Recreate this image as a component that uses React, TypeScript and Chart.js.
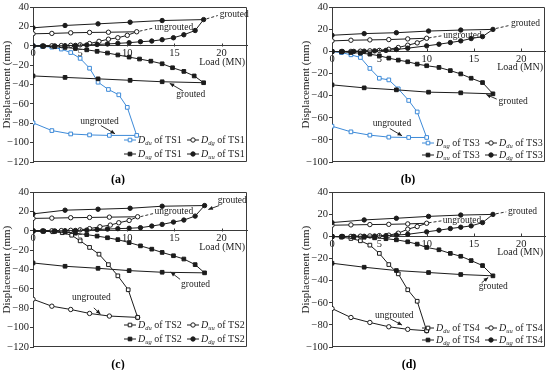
import React, { useEffect, useRef } from 'react';
import { Chart, registerables } from 'chart.js';
Chart.register(...registerables);

type Pt = [number, number];

const FONT = '"Liberation Serif", "Times New Roman", serif';
const INK = '#1c1c1c';
const FRAME = '#3a3a3a';
const BLUE = '#3d8ad8';

// ---- tick labels ----
const X_TICKS = [0, 5, 10, 15, 20];
const Y_TICKS_AC = [40, 20, 0, -20, -40, -60, -80, -100, -120];
const Y_TICKS_BD = [40, 20, 0, -20, -40, -60, -80, -100];

// ---- (a) TS1 : [load MN, displacement mm] ----
const ts1_du: Pt[] = [[0,0],[1,-0.5],[2,-1.2],[3,-3.2],[4,-6.8],[5,-12.8],[6,-23],[6.9,-37.5],[8,-45],[9.1,-50.5],[10,-63.5],[11,-92.5],[8.1,-92.5],[6,-92],[4,-91],[2,-87.5],[0,-79.5]];
const ts1_ug: Pt[] = [[0,0],[1.1,-0.3],[2.3,-0.8],[3.4,-1.5],[4.5,-2.6],[5.7,-4],[6.8,-5.5],[7.9,-7.3],[9,-9.3],[10.2,-11.5],[11.3,-13.5],[12.5,-15.7],[13.7,-18.4],[14.8,-22.5],[16,-26.3],[17.1,-31],[18.1,-38],[13.7,-37],[10.3,-35.5],[6.9,-34],[3.4,-32.5],[0,-31]];
const ts1_dg: Pt[] = [[0,0],[1,0],[2,0.2],[3,0.4],[4,0.7],[5,1.2],[6,2.5],[7,4.8],[8,7],[9,8.5],[10,11],[11,14.7],[8,14.2],[6,14],[4,13.6],[2,13],[0,12.6]];
const ts1_uu: Pt[] = [[0,0],[1.1,0],[2.3,0.1],[3.4,0.3],[4.5,0.6],[5.7,1],[6.8,1.5],[7.9,2.1],[9,2.7],[10.2,3.4],[11.4,4.4],[12.6,5.1],[13.7,6.5],[14.9,8.5],[16,11.6],[17.2,16],[18.1,27.3],[13.7,26.3],[10.3,24.6],[6.9,22.9],[3.4,21.2],[0,18.8]];

// ---- (b) TS3 ----
const ts3_ug: Pt[] = [[0,0],[1,-1],[2,-3],[3,-5.4],[4,-15.3],[5,-24.2],[6,-25.7],[7,-33.8],[8.1,-44.3],[9,-54.7],[10,-77.8],[8.1,-77.8],[6,-77.5],[4,-75.7],[2,-72.7],[0,-67.6]];
const ts3_uu: Pt[] = [[0,0],[1,-0.3],[2,-0.9],[3,-1.5],[4,-2.4],[5,-3.9],[6,-6],[7,-7.8],[8,-9.3],[9,-11.4],[10,-12.9],[11.3,-14.4],[12.5,-17.3],[13.6,-20.3],[14.7,-24.2],[15.9,-28.1],[17,-38.3],[13.6,-37.4],[10.2,-36.8],[6.8,-34.7],[3.4,-32.9],[0,-30.2]];
const ts3_du: Pt[] = [[0,0],[1,0],[2,0.1],[3,0.3],[4,0.6],[5,1],[6,2],[7,3.6],[8,5.7],[9,7.8],[10,12],[8,11.4],[6,10.8],[4,10.5],[2,10.2],[0,9.6]];
const ts3_dg: Pt[] = [[0,0],[1.1,0],[2.3,0.1],[3.4,0.3],[4.5,0.6],[5.7,1],[6.8,1.8],[8,3],[10,5.1],[11.3,6.6],[12.5,8.1],[13.6,9.6],[14.7,11.7],[15.9,13.5],[17,20],[13.6,19.4],[10.2,18.5],[6.8,17],[3.4,16.2],[0,14.7]];

// ---- (c) TS2 ----
const ts2_du: Pt[] = [[0,0],[1.1,-0.3],[2.1,-0.8],[3.1,-1.8],[4.1,-4.4],[5,-10.2],[6,-17],[7,-24],[8,-34.8],[9,-46.4],[10.1,-60.8],[11.1,-89.4]];
const ts2_uu: Pt[] = [[11.1,-89.4],[8.1,-88],[6,-85.3],[4,-81.2],[2,-77.8],[0,-70.6]];
const ts2_ug: Pt[] = [[0,0],[1.1,-0.2],[2.3,-0.5],[3.4,-1.2],[4.5,-2.3],[5.7,-3.8],[6.8,-5.3],[7.9,-7],[9,-9],[10.2,-12],[11.4,-15.4],[12.6,-18.8],[13.7,-22.2],[14.9,-25.6],[16,-29],[17.2,-34.8],[18.2,-43.3],[13.7,-42.7],[10.2,-41],[6.9,-38.6],[3.4,-36.5],[0,-33.1]];
const ts2_up: Pt[] = [[0,0],[1,0],[2,0.2],[3,0.4],[4,0.7],[5,1.2],[6,2.4],[7.1,4.4],[8.2,6.1],[9.1,8.5],[10.2,10.9],[11.1,14.7],[8.1,14.3],[6,14],[4,13.7],[2,13.3],[0,13]];
const ts2_dg: Pt[] = [[0,0],[1.1,0],[2.3,0.1],[3.4,0.3],[4.5,0.5],[5.7,0.9],[6.8,1.4],[7.9,2],[9,2.4],[10.2,2.8],[11.4,3.4],[12.6,5.1],[13.7,6.8],[14.9,9.2],[16,11.3],[17.2,15.4],[18.2,26.3],[13.7,25.6],[10.3,23.5],[6.9,22.5],[3.4,21.5],[0,17.7]];

// ---- (d) TS4 ----
const ts4_du: Pt[] = [[0,0],[1,-0.6],[2,-1.8],[3,-3.9],[4,-7.8],[5,-15.3],[6,-25.4],[7,-33.8],[8,-48.2],[9,-58.6],[10,-85.3]];
const ts4_uu: Pt[] = [[10,-85.3],[8,-84],[6,-81.7],[4,-77.8],[2,-73.3],[0,-65.2]];
const ts4_dg: Pt[] = [[0,0],[1.1,-0.1],[2.3,-0.3],[3.4,-0.7],[4.5,-1.2],[5.7,-2],[6.8,-3],[8,-4.8],[9,-6.9],[10,-9.9],[11.3,-12],[12.5,-15.3],[13.6,-17.9],[14.7,-21.8],[15.9,-26.3],[17,-35.6],[13.6,-34.4],[10.2,-32.6],[6.8,-30.8],[3.4,-27.8],[0,-24.2]];
const ts4_up: Pt[] = [[0,0],[1,0],[2,0.1],[3,0.3],[4,0.5],[5,0.8],[6,1.2],[7,3],[8,6.6],[9,9],[10,12],[8,11.4],[6,11],[4,10.8],[2,10.5],[0,10.2]];
const ts4_ug: Pt[] = [[0,0],[1.1,0],[2.3,0.1],[3.4,0.2],[4.5,0.4],[5.7,0.8],[6.8,1.3],[8,2],[10,4.2],[11.3,5.7],[12.5,7.2],[13.6,8.4],[14.7,9.6],[15.9,12.6],[17,20],[13.6,19.4],[10.2,18.2],[6.8,16.5],[3.4,15],[0,12.6]];

type Mk = 'openRect' | 'openCircle' | 'rect' | 'circle';
type Series = { data: Pt[]; mk: Mk; color: string };
type Leg = { sub: string; mk: Mk; color: string };
type Note = { text: string; tx: number; ty: number; x1: number; y1: number; x2: number; y2: number; arrow: boolean };

type PanelDef = {
  tag: string; left: number; top: number; padLeft: number; padRight: number;
  xMax: number; yMin: number; yTicks: number[]; ts: string; tagX: number;
  rows: number[]; series: Series[]; legend: Leg[]; notes: Note[];
};

const PANELS: PanelDef[] = [
  {
    tag: '(a)', left: 0, top: 0, padLeft: 0, padRight: 28, xMax: 22.7, yMin: -120, yTicks: Y_TICKS_AC, ts: 'TS1', tagX: 118, rows: [-22, -8],
    series: [
      { data: ts1_ug, mk: 'rect', color: INK },
      { data: ts1_uu, mk: 'circle', color: INK },
      { data: ts1_dg, mk: 'openCircle', color: INK },
      { data: ts1_du, mk: 'openRect', color: BLUE },
    ],
    legend: [
      { sub: 'du', mk: 'openRect', color: BLUE }, { sub: 'dg', mk: 'openCircle', color: INK },
      { sub: 'ug', mk: 'rect', color: INK }, { sub: 'uu', mk: 'circle', color: INK },
    ],
    notes: [
      { text: 'grouted', tx: 19.8, ty: 32.5, x1: 18.4, y1: 28, x2: 19.6, y2: 31.5, arrow: false },
      { text: 'ungrouted', tx: 12.9, ty: 19.2, x1: 11.3, y1: 15.3, x2: 12.8, y2: 18.6, arrow: false },
      { text: 'grouted', tx: 15.2, ty: -50.6, x1: 15.9, y1: -46.5, x2: 14.5, y2: -38.6, arrow: true },
      { text: 'ungrouted', tx: 5.0, ty: -77.8, x1: 7.2, y1: -82.3, x2: 8.7, y2: -90.8, arrow: true },
    ],
  },
  {
    tag: '(b)', left: 275, top: 0, padLeft: 24, padRight: 4, xMax: 22.5, yMin: -100, yTicks: Y_TICKS_BD, ts: 'TS3', tagX: 133, rows: [-19, -7],
    series: [
      { data: ts3_uu, mk: 'rect', color: INK },
      { data: ts3_dg, mk: 'circle', color: INK },
      { data: ts3_du, mk: 'openCircle', color: INK },
      { data: ts3_ug, mk: 'openRect', color: BLUE },
    ],
    legend: [
      { sub: 'ug', mk: 'openRect', color: BLUE }, { sub: 'du', mk: 'openCircle', color: INK },
      { sub: 'uu', mk: 'rect', color: INK }, { sub: 'dg', mk: 'circle', color: INK },
    ],
    notes: [
      { text: 'grouted', tx: 18.9, ty: 24.9, x1: 17.3, y1: 20.8, x2: 18.7, y2: 23.5, arrow: false },
      { text: 'ungrouted', tx: 11.75, ty: 14.7, x1: 10.2, y1: 12.3, x2: 11.6, y2: 14.2, arrow: false },
      { text: 'grouted', tx: 17.6, ty: -45.2, x1: 17.4, y1: -43.1, x2: 16.3, y2: -38.9, arrow: true },
      { text: 'ungrouted', tx: 4.3, ty: -65.2, x1: 6.1, y1: -69.7, x2: 7.4, y2: -76.3, arrow: true },
    ],
  },
  {
    tag: '(c)', left: 0, top: 185, padLeft: 0, padRight: 28, xMax: 22.7, yMin: -120, yTicks: Y_TICKS_AC, ts: 'TS2', tagX: 118, rows: [-22, -8],
    series: [
      { data: ts2_ug, mk: 'rect', color: INK },
      { data: ts2_dg, mk: 'circle', color: INK },
      { data: ts2_up, mk: 'openCircle', color: INK },
      { data: ts2_du, mk: 'openRect', color: INK },
      { data: ts2_uu, mk: 'openCircle', color: INK },
    ],
    legend: [
      { sub: 'du', mk: 'openRect', color: INK }, { sub: 'uu', mk: 'openCircle', color: INK },
      { sub: 'ug', mk: 'rect', color: INK }, { sub: 'dg', mk: 'circle', color: INK },
    ],
    notes: [
      { text: 'grouted', tx: 19.6, ty: 31.7, x1: 19.75, y1: 26.3, x2: 18.6, y2: 22.2, arrow: true },
      { text: 'ungrouted', tx: 12.9, ty: 19.8, x1: 11.4, y1: 14.8, x2: 12.8, y2: 18.1, arrow: false },
      { text: 'grouted', tx: 15.7, ty: -55.3, x1: 15.6, y1: -50, x2: 14.6, y2: -42.5, arrow: true },
      { text: 'ungrouted', tx: 4.15, ty: -68.6, x1: 6.45, y1: -79.5, x2: 7.16, y2: -86, arrow: true },
    ],
  },
  {
    tag: '(d)', left: 275, top: 185, padLeft: 24, padRight: 4, xMax: 22.5, yMin: -100, yTicks: Y_TICKS_BD, ts: 'TS4', tagX: 134, rows: [-19, -7],
    series: [
      { data: ts4_dg, mk: 'rect', color: INK },
      { data: ts4_ug, mk: 'circle', color: INK },
      { data: ts4_up, mk: 'openCircle', color: INK },
      { data: ts4_du, mk: 'openRect', color: INK },
      { data: ts4_uu, mk: 'openCircle', color: INK },
    ],
    legend: [
      { sub: 'du', mk: 'openRect', color: INK }, { sub: 'uu', mk: 'openCircle', color: INK },
      { sub: 'dg', mk: 'rect', color: INK }, { sub: 'ug', mk: 'circle', color: INK },
    ],
    notes: [
      { text: 'grouted', tx: 18.6, ty: 23, x1: 17.3, y1: 20.5, x2: 18.4, y2: 22.3, arrow: false },
      { text: 'ungrouted', tx: 11.7, ty: 14.7, x1: 10.2, y1: 12.4, x2: 11.6, y2: 14.2, arrow: false },
      { text: 'grouted', tx: 15.5, ty: -45.2, x1: 15.8, y1: -41.9, x2: 16.5, y2: -37.1, arrow: true },
      { text: 'ungrouted', tx: 4.55, ty: -71.2, x1: 6.1, y1: -74.2, x2: 7.4, y2: -80.2, arrow: true },
    ],
  },
];

const isRect = (mk: Mk) => mk === 'openRect' || mk === 'rect';
const isOpen = (mk: Mk) => mk === 'openRect' || mk === 'openCircle';

function dataset(s: Series) {
  return {
    data: s.data.map(([x, y]) => ({ x, y })),
    showLine: true,
    borderColor: s.color,
    backgroundColor: s.color,
    borderWidth: 1,
    pointStyle: isRect(s.mk) ? 'rect' : 'circle',
    pointRadius: isRect(s.mk) ? 2.6 : 2.2,
    pointBorderWidth: 1,
    pointBorderColor: s.color,
    pointBackgroundColor: isOpen(s.mk) ? '#ffffff' : s.color,
    tension: 0,
  };
}

function drawMarker(ctx: CanvasRenderingContext2D, x: number, y: number, mk: Mk, color: string) {
  ctx.beginPath();
  if (isRect(mk)) ctx.rect(x - 1.8, y - 1.8, 3.6, 3.6);
  else ctx.arc(x, y, 2.2, 0, Math.PI * 2);
  ctx.fillStyle = isOpen(mk) ? '#ffffff' : color;
  ctx.fill();
  ctx.strokeStyle = color;
  ctx.lineWidth = 1;
  ctx.stroke();
}

function extras(p: PanelDef) {
  return {
    id: 'extras',
    afterDraw(chart: any) {
      const { ctx, chartArea: ca } = chart;
      const xs = chart.scales.x, ys = chart.scales.y;
      const X = (v: number) => xs.getPixelForValue(v);
      const Y = (v: number) => ys.getPixelForValue(v);
      ctx.save();
      // frame
      ctx.strokeStyle = FRAME; ctx.lineWidth = 1;
      const l = Math.round(ca.left) + 0.5, t = Math.round(ca.top) + 0.5;
      const r = Math.round(ca.right) - 0.5, b = Math.round(ca.bottom) - 0.5;
      ctx.beginPath();
      ctx.moveTo(l, t); ctx.lineTo(r, t); ctx.lineTo(r, b); ctx.lineTo(l, b);
      ctx.stroke();
      // x tick marks (inward, above the zero line)
      const y0 = Math.round(Y(0)) + 0.5;
      ctx.beginPath();
      X_TICKS.forEach((v) => {
        if (v === 0) return;
        const px = Math.round(X(v)) + 0.5;
        ctx.moveTo(px, y0); ctx.lineTo(px, y0 - 3);
      });
      ctx.stroke();
      // x axis title
      ctx.fillStyle = INK;
      ctx.font = `10px ${FONT}`;
      ctx.textAlign = 'right'; ctx.textBaseline = 'middle';
      ctx.fillText('Load (MN)', ca.right - 2, Y(0) + 16);
      // annotations
      ctx.textAlign = 'left';
      ctx.font = `9.5px ${FONT}`;
      p.notes.forEach((n) => {
        const x1 = X(n.x1), y1 = Y(n.y1), x2 = X(n.x2), y2 = Y(n.y2);
        ctx.strokeStyle = INK; ctx.lineWidth = 0.9;
        ctx.setLineDash(n.arrow ? [] : [3, 2]);
        ctx.beginPath(); ctx.moveTo(x1, y1); ctx.lineTo(x2, y2); ctx.stroke();
        ctx.setLineDash([]);
        if (n.arrow) {
          const ang = Math.atan2(y2 - y1, x2 - x1);
          const L = 4.5, W = 2;
          ctx.beginPath();
          ctx.moveTo(x2, y2);
          ctx.lineTo(x2 - L * Math.cos(ang) + W * Math.sin(ang), y2 - L * Math.sin(ang) - W * Math.cos(ang));
          ctx.lineTo(x2 - L * Math.cos(ang) - W * Math.sin(ang), y2 - L * Math.sin(ang) + W * Math.cos(ang));
          ctx.closePath();
          ctx.fillStyle = INK; ctx.fill();
        }
        ctx.fillStyle = INK;
        ctx.fillText(n.text, X(n.tx), Y(n.ty));
      });
      // legend
      const cols = [{ line: -123, text: -109 }, { line: -60, text: -46 }];
      p.legend.forEach((e, i) => {
        const c = cols[i % 2];
        const ry = ca.bottom + p.rows[Math.floor(i / 2)];
        const lx = ca.right + c.line;
        ctx.strokeStyle = e.color; ctx.lineWidth = 1;
        ctx.beginPath(); ctx.moveTo(lx, ry); ctx.lineTo(lx + 12, ry); ctx.stroke();
        drawMarker(ctx, lx + 6, ry, e.mk, e.color);
        let tx = ca.right + c.text;
        ctx.fillStyle = INK; ctx.textAlign = 'left'; ctx.textBaseline = 'middle';
        ctx.font = `italic 10px ${FONT}`;
        ctx.fillText('D', tx, ry); tx += ctx.measureText('D').width;
        ctx.font = `italic 6.5px ${FONT}`;
        ctx.fillText(e.sub, tx, ry + 3); tx += ctx.measureText(e.sub).width;
        ctx.font = `10px ${FONT}`;
        ctx.fillText(' of ' + p.ts, tx, ry);
      });
      // panel tag
      ctx.font = `bold 12px ${FONT}`;
      ctx.textAlign = 'center'; ctx.textBaseline = 'middle';
      ctx.fillStyle = '#000';
      ctx.fillText(p.tag, p.tagX, 180);
      ctx.restore();
    },
  };
}

function makeConfig(p: PanelDef): any {
  const fmt = (v: any) => (Number(v) < 0 ? '\u2212' + Math.abs(Number(v)) : String(v));
  return {
    type: 'scatter',
    data: { datasets: p.series.map(dataset) },
    options: {
      responsive: false,
      animation: false,
      devicePixelRatio: 1,
      layout: { padding: { top: 6, bottom: 23, left: p.padLeft, right: p.padRight } },
      plugins: { legend: { display: false }, tooltip: { enabled: false } },
      scales: {
        x: {
          type: 'linear',
          position: { y: 0 },
          min: 0, max: p.xMax,
          afterBuildTicks: (s: any) => { s.ticks = X_TICKS.map((v) => ({ value: v })); },
          ticks: { includeBounds: false, padding: 1, color: INK, font: { family: FONT, size: 10.5 } },
          grid: { drawOnChartArea: false, drawTicks: false },
          border: { display: true, color: FRAME, width: 1 },
        },
        y: {
          type: 'linear',
          position: 'left',
          min: p.yMin, max: 40,
          afterBuildTicks: (s: any) => { s.ticks = p.yTicks.map((v) => ({ value: v })); },
          afterFit: (s: any) => { s.width = 33; },
          ticks: { padding: 1, color: INK, font: { family: FONT, size: 10.5 }, callback: fmt },
          grid: { drawOnChartArea: false, drawTicks: true, tickLength: 3, color: FRAME },
          border: { display: true, color: FRAME, width: 1 },
          title: { display: true, text: 'Displacement (mm)', color: INK, font: { family: FONT, size: 11 }, padding: { top: 1, bottom: 0 } },
        },
      },
    },
    plugins: [extras(p)],
  };
}

function Panel({ p }: { p: PanelDef }) {
  const ref = useRef<HTMLCanvasElement>(null);
  useEffect(() => {
    const chart = new Chart(ref.current as HTMLCanvasElement, makeConfig(p));
    return () => chart.destroy();
  }, [p]);
  return (
    <canvas
      ref={ref}
      width={275}
      height={185}
      style={{ position: 'absolute', left: p.left, top: p.top, width: 275, height: 185 }}
    />
  );
}

export default function App() {
  return (
    <div style={{ position: 'absolute', left: 0, top: 0, width: 550, height: 370, background: '#fff', overflow: 'hidden' }}>
      {PANELS.map((p) => (
        <Panel key={p.tag} p={p} />
      ))}
    </div>
  );
}
